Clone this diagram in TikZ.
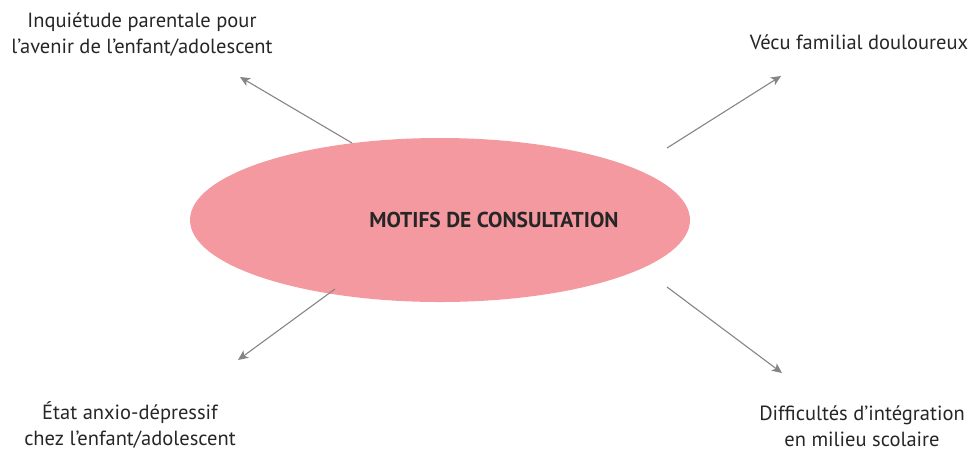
\documentclass[tikz,border=0pt]{standalone}
\usepackage{fontspec}
\setmainfont{PT Sans}
\usetikzlibrary{shapes.geometric,arrows.meta}
\definecolor{pinkfill}{HTML}{F4999F}
\definecolor{arrowgrey}{HTML}{858585}
\tikzset{
  lbl/.style={font=\fontsize{20.5}{26}\selectfont, align=center, text=black!85, inner sep=0pt},
  conn/.style={draw=arrowgrey, line width=1.1pt, -{Stealth[length=10pt,width=9pt,inset=2.5pt]}}
}
\begin{document}
\begin{tikzpicture}[x=1pt,y=-1pt]
\useasboundingbox (0,0) rectangle (972,451);
\node[ellipse, fill=pinkfill, minimum width=500pt, minimum height=164pt, inner sep=0pt] (e) at (440,220) {};
\node[font=\bfseries\fontsize{21.5}{24}\selectfont, text=black!85, inner sep=0pt] (title) at (494,220) {MOTIFS DE CONSULTATION};
\node[lbl] (tl) at (142,35) {Inquiétude parentale pour\\l’avenir de l’enfant/adolescent};
\node[lbl] (tr) at (859,42) {Vécu familial douloureux};
\node[lbl] (bl) at (130,425) {État anxio-dépressif\\chez l’enfant/adolescent};
\node[lbl] (br) at (862,426) {Difficultés d’intégration\\en milieu scolaire};
\coordinate (s1) at (352,143);
\coordinate (t1) at (240,77);
\coordinate (s2) at (667,148);
\coordinate (t2) at (781,76);
\coordinate (s3) at (335,289);
\coordinate (t3) at (238,360);
\coordinate (s4) at (667,287);
\coordinate (t4) at (782,373);
\draw[conn] (s1) -- (t1);
\draw[conn] (s2) -- (t2);
\draw[conn] (s3) -- (t3);
\draw[conn] (s4) -- (t4);
\end{tikzpicture}
\end{document}
